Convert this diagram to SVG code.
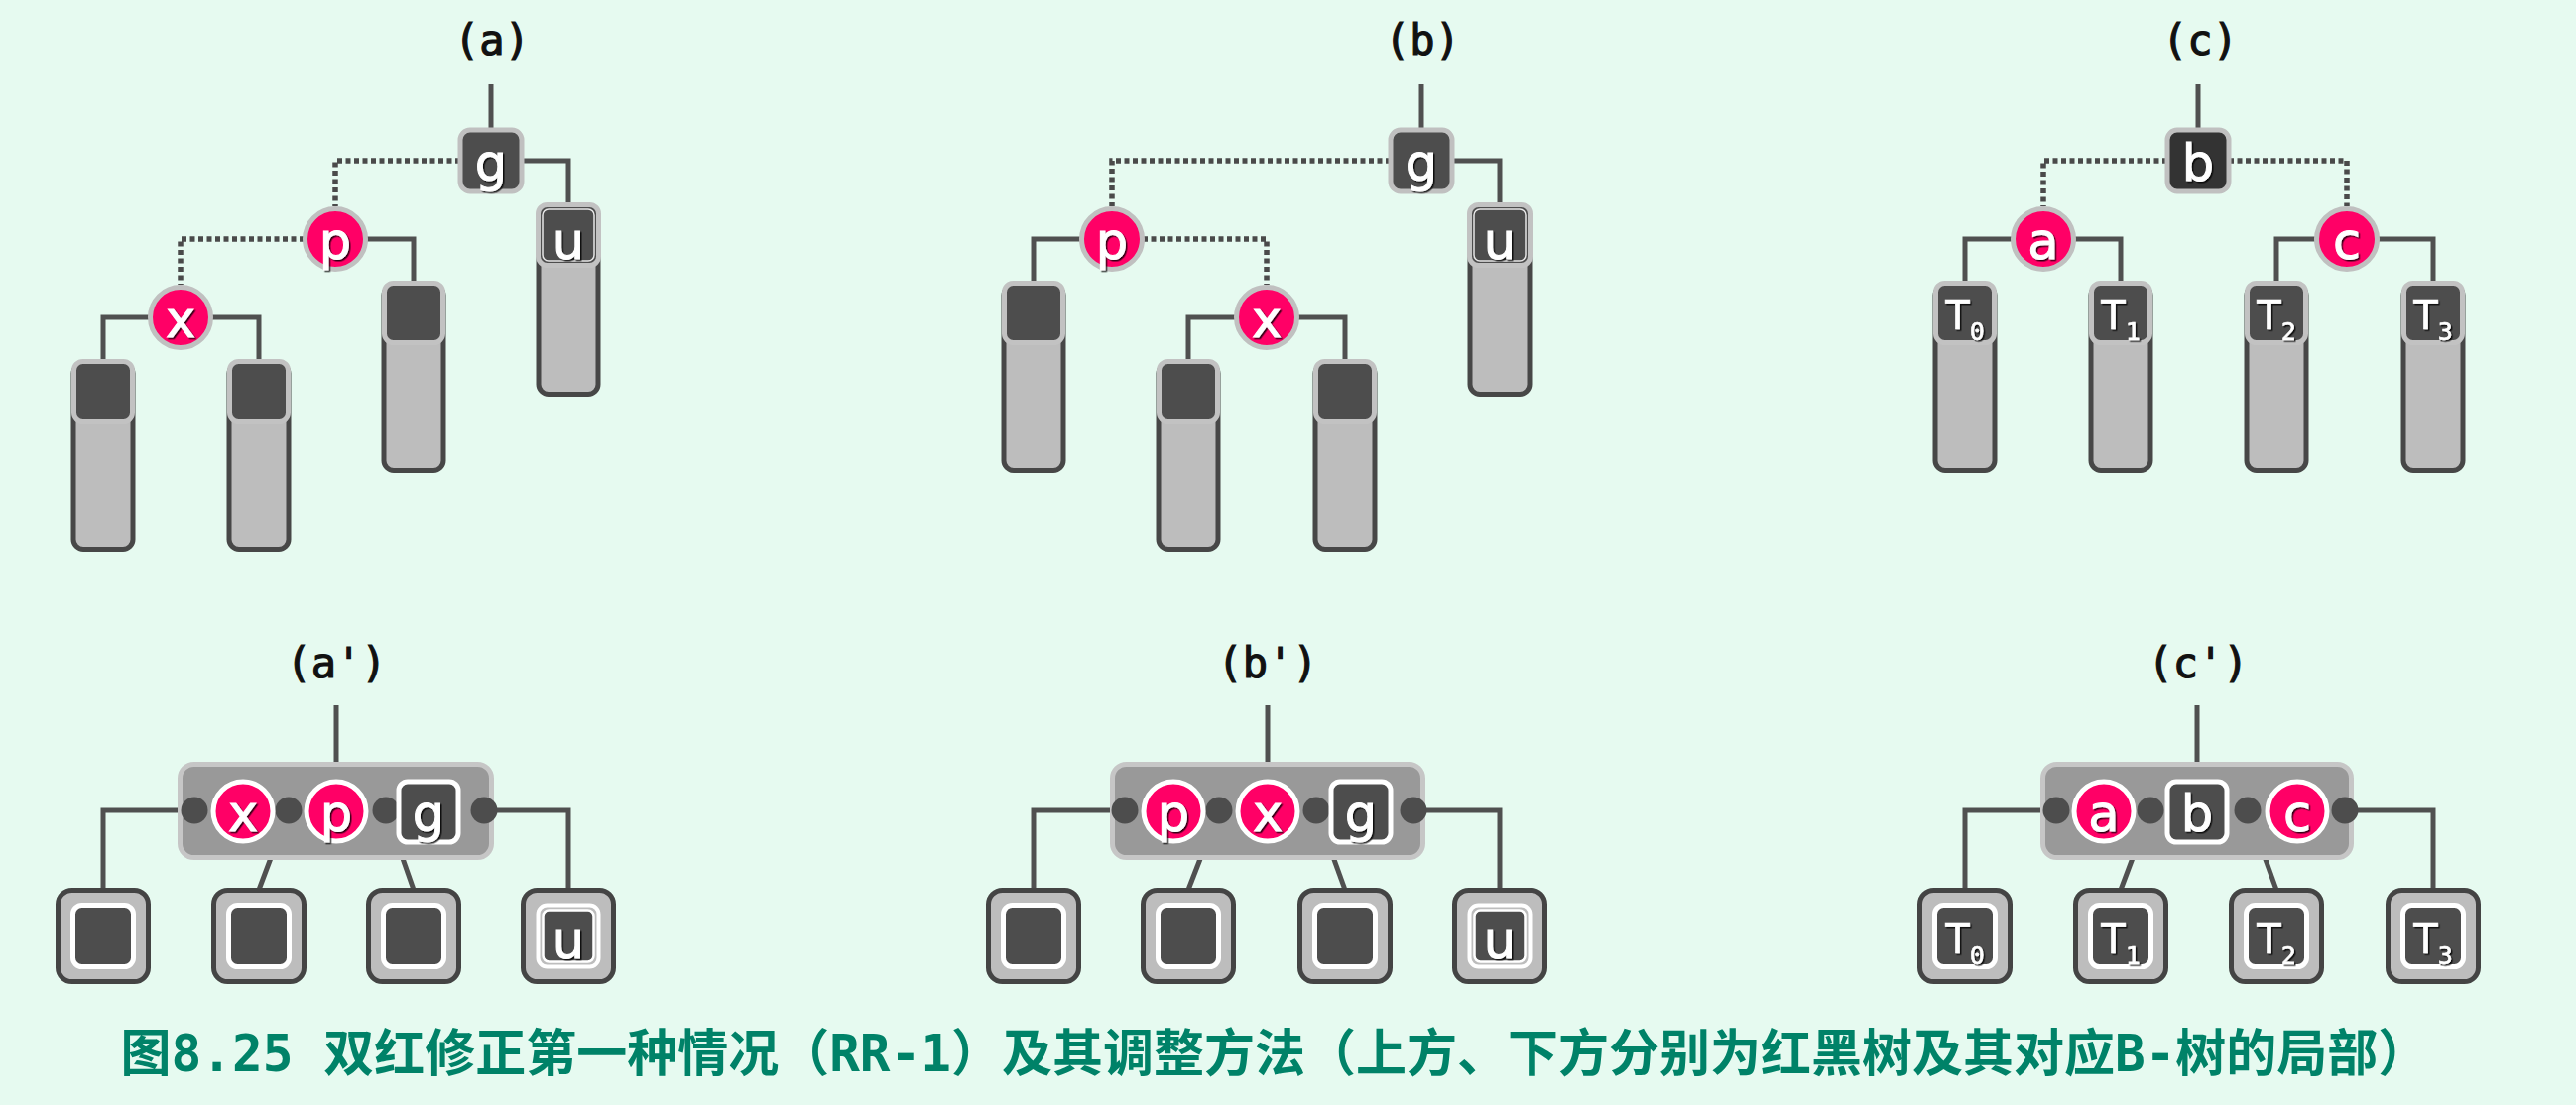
<svg xmlns="http://www.w3.org/2000/svg" width="2597" height="1114" viewBox="0 0 2597 1114">
<defs>
<style>
.bg{fill:#E6FAF0}
.ln{fill:none;stroke:#505050;stroke-width:5}
.dt{fill:none;stroke:#4a4a4a;stroke-width:5.5;stroke-dasharray:5 3.5}
.blk{fill:#4d4d4d;stroke:#c0c0c0;stroke-width:5}
.blk2{fill:#333333;stroke:#c0c0c0;stroke-width:5}
.red{fill:#FF0066;stroke:#c0c0c0;stroke-width:5}
.redw{fill:#FF0066;stroke:#ffffff;stroke-width:5}
.blkw{fill:#4d4d4d;stroke:#ffffff;stroke-width:5}
.tall{fill:#bdbdbd;stroke:#474747;stroke-width:5}
.top{fill:#4d4d4d;stroke:#c2c2c2;stroke-width:5}
.cont{fill:#999999;stroke:#c6c6c6;stroke-width:5}
.dot{fill:#4d4d4d}
.bbox{fill:#bdbdbd;stroke:#444444;stroke-width:5}
.inner{fill:#4d4d4d;stroke:#ffffff;stroke-width:5}
.key{font-family:"DejaVu Sans",sans-serif;font-size:51px;fill:#ffffff;stroke:#ffffff;stroke-width:1;text-anchor:middle;filter:url(#sh)}
.tl{font-family:"DejaVu Sans",sans-serif;font-size:40px;fill:#ffffff;stroke:#ffffff;stroke-width:0.6;text-anchor:middle;filter:url(#sh)}
.sub{font-family:"DejaVu Sans Mono",monospace;font-size:25px}
.lab{font-family:"DejaVu Sans Mono","Liberation Mono",monospace;font-size:42px;fill:#111111;stroke:#111111;stroke-width:1.2;text-anchor:middle}
.cap{font-family:"DejaVu Sans Mono","Noto Sans CJK SC",monospace;font-size:51px;font-weight:bold;fill:#008268;text-anchor:middle}
</style>
<filter id="sh" x="-30%" y="-30%" width="160%" height="160%">
<feDropShadow dx="1.5" dy="1.5" stdDeviation="0.6" flood-color="#000" flood-opacity="0.8"/>
</filter>
</defs>
<rect class="bg" x="0" y="0" width="2597" height="1114"/>

<g id="connectors">
<path class="ln" d="M495 85 V131"/>
<path class="dt" d="M464 162 H338 V208"/>
<path class="dt" d="M307 241 H182 V287"/>
<path class="ln" d="M526 162 H573 V206"/>
<path class="ln" d="M369 241 H417 V285"/>
<path class="ln" d="M151 320 H104 V364"/>
<path class="ln" d="M213 320 H261 V364"/>
<path class="ln" d="M1433 85 V131"/>
<path class="dt" d="M1402 162 H1121 V208"/>
<path class="dt" d="M1152 241 H1277 V287"/>
<path class="ln" d="M1464 162 H1512 V206"/>
<path class="ln" d="M1090 241 H1042 V285"/>
<path class="ln" d="M1246 320 H1198 V364"/>
<path class="ln" d="M1308 320 H1356 V364"/>
<path class="ln" d="M2216 85 V131"/>
<path class="dt" d="M2185 162 H2060 V208"/>
<path class="dt" d="M2247 162 H2366 V208"/>
<path class="ln" d="M2029 241 H1981 V285"/>
<path class="ln" d="M2091 241 H2138 V285"/>
<path class="ln" d="M2335 241 H2295 V285"/>
<path class="ln" d="M2397 241 H2453 V285"/>
<path class="ln" d="M339 711 V770"/>
<path class="ln" d="M196 817 H104 V897"/>
<path class="ln" d="M291 817 L261 897"/>
<path class="ln" d="M389 817 L417 897"/>
<path class="ln" d="M488 817 H573 V897"/>
<path class="ln" d="M1278 711 V770"/>
<path class="ln" d="M1134 817 H1042 V897"/>
<path class="ln" d="M1229 817 L1198 897"/>
<path class="ln" d="M1327 817 L1356 897"/>
<path class="ln" d="M1425 817 H1512 V897"/>
<path class="ln" d="M2215 711 V770"/>
<path class="ln" d="M2073 817 H1981 V897"/>
<path class="ln" d="M2168 817 L2138 897"/>
<path class="ln" d="M2266 817 L2295 897"/>
<path class="ln" d="M2364 817 H2453 V897"/>
</g>

<g id="labels">
<text class="lab" x="496" y="55">(a)</text>
<text class="lab" x="1434" y="55">(b)</text>
<text class="lab" x="2218" y="55">(c)</text>
<text class="lab" x="339" y="683">(a')</text>
<text class="lab" x="1278" y="683">(b')</text>
<text class="lab" x="2216" y="683">(c')</text>
</g>

<g id="a-sub-x-left"><rect class="tall" x="74" y="366.5" width="60" height="187" rx="10"/><rect class="top" x="74.5" y="364.5" width="59" height="60" rx="9"/></g>
<g id="a-sub-x-right"><rect class="tall" x="231" y="366.5" width="60" height="187" rx="10"/><rect class="top" x="231.5" y="364.5" width="59" height="60" rx="9"/></g>
<g id="a-sub-p-right"><rect class="tall" x="387" y="287.5" width="60" height="187" rx="10"/><rect class="top" x="387.5" y="285.5" width="59" height="60" rx="9"/></g>
<g id="a-u"><rect class="tall" x="543" y="208.5" width="60" height="189" rx="10"/><rect class="top" x="542.5" y="206.5" width="61" height="61" rx="9"/><rect x="547" y="211" width="52" height="52" rx="6" fill="none" stroke="#e6e6e6" stroke-width="1.5"/><text class="key" x="573" y="261">u</text></g>
<g id="a-g"><rect class="blk" x="464" y="131" width="62" height="62" rx="10"/><text class="key" x="495" y="182">g</text></g>
<g id="a-p"><circle class="red" cx="338" cy="241" r="30.5"/><text class="key" x="338" y="261">p</text></g>
<g id="a-x"><circle class="red" cx="182" cy="320" r="30.5"/><text class="key" x="182" y="340">x</text></g>

<g id="b-sub-p-left"><rect class="tall" x="1012" y="287.5" width="60" height="187" rx="10"/><rect class="top" x="1012.5" y="285.5" width="59" height="60" rx="9"/></g>
<g id="b-sub-x-left"><rect class="tall" x="1168" y="366.5" width="60" height="187" rx="10"/><rect class="top" x="1168.5" y="364.5" width="59" height="60" rx="9"/></g>
<g id="b-sub-x-right"><rect class="tall" x="1326" y="366.5" width="60" height="187" rx="10"/><rect class="top" x="1326.5" y="364.5" width="59" height="60" rx="9"/></g>
<g id="b-u"><rect class="tall" x="1482" y="208.5" width="60" height="189" rx="10"/><rect class="top" x="1481.5" y="206.5" width="61" height="61" rx="9"/><rect x="1486" y="211" width="52" height="52" rx="6" fill="none" stroke="#e6e6e6" stroke-width="1.5"/><text class="key" x="1512" y="261">u</text></g>
<g id="b-g"><rect class="blk" x="1402" y="131" width="62" height="62" rx="10"/><text class="key" x="1433" y="182">g</text></g>
<g id="b-p"><circle class="red" cx="1121" cy="241" r="30.5"/><text class="key" x="1121" y="261">p</text></g>
<g id="b-x"><circle class="red" cx="1277" cy="320" r="30.5"/><text class="key" x="1277" y="340">x</text></g>

<g id="c-T0"><rect class="tall" x="1951" y="287.5" width="60" height="187" rx="10"/><rect class="top" x="1951.5" y="285.5" width="59" height="60" rx="9"/><text class="tl" x="1981" y="332">T<tspan class="sub" dy="11">0</tspan></text></g>
<g id="c-T1"><rect class="tall" x="2108" y="287.5" width="60" height="187" rx="10"/><rect class="top" x="2108.5" y="285.5" width="59" height="60" rx="9"/><text class="tl" x="2138" y="332">T<tspan class="sub" dy="11">1</tspan></text></g>
<g id="c-T2"><rect class="tall" x="2265" y="287.5" width="60" height="187" rx="10"/><rect class="top" x="2265.5" y="285.5" width="59" height="60" rx="9"/><text class="tl" x="2295" y="332">T<tspan class="sub" dy="11">2</tspan></text></g>
<g id="c-T3"><rect class="tall" x="2423" y="287.5" width="60" height="187" rx="10"/><rect class="top" x="2423.5" y="285.5" width="59" height="60" rx="9"/><text class="tl" x="2453" y="332">T<tspan class="sub" dy="11">3</tspan></text></g>
<g id="c-b"><rect class="blk2" x="2185" y="131" width="62" height="62" rx="10"/><text class="key" x="2216" y="182">b</text></g>
<g id="c-a"><circle class="red" cx="2060" cy="241" r="30.5"/><text class="key" x="2060" y="261">a</text></g>
<g id="c-c"><circle class="red" cx="2366" cy="241" r="30.5"/><text class="key" x="2366" y="261">c</text></g>

<g id="ap-node">
<rect class="cont" x="181.5" y="770.5" width="314" height="94" rx="14"/>
<circle class="dot" cx="196" cy="817" r="13.5"/><circle class="dot" cx="291" cy="817" r="13.5"/><circle class="dot" cx="389" cy="817" r="13.5"/><circle class="dot" cx="488" cy="817" r="13.5"/>
<circle class="redw" cx="245" cy="818" r="30"/><text class="key" x="245" y="838">x</text>
<circle class="redw" cx="339" cy="818" r="30"/><text class="key" x="339" y="838">p</text>
<rect class="blkw" x="402" y="788" width="60" height="61" rx="9"/><text class="key" x="432" y="838">g</text>
</g>
<g id="ap-c0"><rect class="bbox" x="58.5" y="897.5" width="91" height="92" rx="14"/><rect class="inner" x="73.5" y="912.5" width="61" height="62" rx="9"/></g>
<g id="ap-c1"><rect class="bbox" x="215.5" y="897.5" width="91" height="92" rx="14"/><rect class="inner" x="230.5" y="912.5" width="61" height="62" rx="9"/></g>
<g id="ap-c2"><rect class="bbox" x="371.5" y="897.5" width="91" height="92" rx="14"/><rect class="inner" x="386.5" y="912.5" width="61" height="62" rx="9"/></g>
<g id="ap-u"><rect class="bbox" x="527.5" y="897.5" width="91" height="92" rx="14"/><rect x="542.5" y="912.5" width="61" height="62" rx="9" fill="#bdbdbd" stroke="#fff" stroke-width="4"/><rect x="547.5" y="917.5" width="51" height="52" rx="6" fill="#4d4d4d" stroke="#fff" stroke-width="2.5"/><text class="key" x="573" y="966">u</text></g>

<g id="bp-node">
<rect class="cont" x="1121.5" y="770.5" width="313" height="94" rx="14"/>
<circle class="dot" cx="1134" cy="817" r="13.5"/><circle class="dot" cx="1229" cy="817" r="13.5"/><circle class="dot" cx="1327" cy="817" r="13.5"/><circle class="dot" cx="1425" cy="817" r="13.5"/>
<circle class="redw" cx="1183" cy="818" r="30"/><text class="key" x="1183" y="838">p</text>
<circle class="redw" cx="1278" cy="818" r="30"/><text class="key" x="1278" y="838">x</text>
<rect class="blkw" x="1342" y="788" width="60" height="61" rx="9"/><text class="key" x="1372" y="838">g</text>
</g>
<g id="bp-c0"><rect class="bbox" x="996.5" y="897.5" width="91" height="92" rx="14"/><rect class="inner" x="1011.5" y="912.5" width="61" height="62" rx="9"/></g>
<g id="bp-c1"><rect class="bbox" x="1152.5" y="897.5" width="91" height="92" rx="14"/><rect class="inner" x="1167.5" y="912.5" width="61" height="62" rx="9"/></g>
<g id="bp-c2"><rect class="bbox" x="1310.5" y="897.5" width="91" height="92" rx="14"/><rect class="inner" x="1325.5" y="912.5" width="61" height="62" rx="9"/></g>
<g id="bp-u"><rect class="bbox" x="1466.5" y="897.5" width="91" height="92" rx="14"/><rect x="1481.5" y="912.5" width="61" height="62" rx="9" fill="#bdbdbd" stroke="#fff" stroke-width="4"/><rect x="1486.5" y="917.5" width="51" height="52" rx="6" fill="#4d4d4d" stroke="#fff" stroke-width="2.5"/><text class="key" x="1512" y="966">u</text></g>

<g id="cp-node">
<rect class="cont" x="2059.5" y="770.5" width="311" height="94" rx="14"/>
<circle class="dot" cx="2073" cy="817" r="13.5"/><circle class="dot" cx="2168" cy="817" r="13.5"/><circle class="dot" cx="2266" cy="817" r="13.5"/><circle class="dot" cx="2364" cy="817" r="13.5"/>
<circle class="redw" cx="2121" cy="818" r="30"/><text class="key" x="2121" y="838">a</text>
<rect class="blkw" x="2185" y="788" width="60" height="61" rx="9"/><text class="key" x="2215" y="838">b</text>
<circle class="redw" cx="2316" cy="818" r="30"/><text class="key" x="2316" y="838">c</text>
</g>
<g id="cp-T0"><rect class="bbox" x="1935.5" y="897.5" width="91" height="92" rx="14"/><rect class="inner" x="1950.5" y="912.5" width="61" height="62" rx="9"/><text class="tl" x="1981" y="961">T<tspan class="sub" dy="11">0</tspan></text></g>
<g id="cp-T1"><rect class="bbox" x="2092.5" y="897.5" width="91" height="92" rx="14"/><rect class="inner" x="2107.5" y="912.5" width="61" height="62" rx="9"/><text class="tl" x="2138" y="961">T<tspan class="sub" dy="11">1</tspan></text></g>
<g id="cp-T2"><rect class="bbox" x="2249.5" y="897.5" width="91" height="92" rx="14"/><rect class="inner" x="2264.5" y="912.5" width="61" height="62" rx="9"/><text class="tl" x="2295" y="961">T<tspan class="sub" dy="11">2</tspan></text></g>
<g id="cp-T3"><rect class="bbox" x="2407.5" y="897.5" width="91" height="92" rx="14"/><rect class="inner" x="2422.5" y="912.5" width="61" height="62" rx="9"/><text class="tl" x="2453" y="961">T<tspan class="sub" dy="11">3</tspan></text></g>

<g id="caption">
<text class="cap" x="1285" y="1080">图8.25 双红修正第一种情况（RR-1）及其调整方法（上方、下方分别为红黑树及其对应B-树的局部）</text>
</g>
</svg>
